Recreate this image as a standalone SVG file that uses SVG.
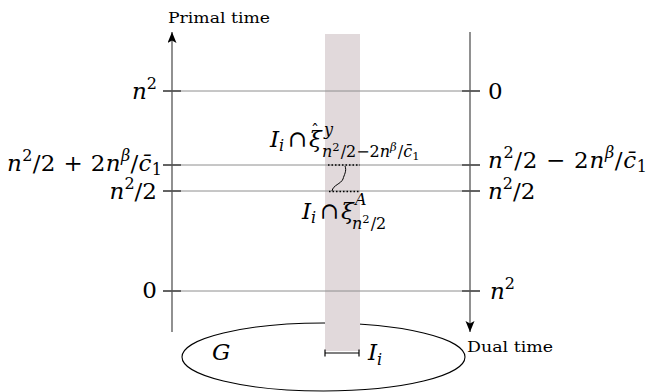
<svg xmlns="http://www.w3.org/2000/svg" width="649" height="392" viewBox="0 0 649 392">
<style>
  text { font-family: "DejaVu Serif", serif; fill: #000; }
  .m { font-size: 23px; }
  .i { font-style: italic; }
  .n { font-style: normal; }
  .s { font-size: 16px; }
  .ss { font-size: 11.5px; }
  .lbl { font-size: 15px; }
  .hl { stroke: #8e8e8e; stroke-width: 1; fill: none; }
  .tick { stroke: #222; stroke-width: 1.2; fill: none; }
  .axis { stroke: #555; stroke-width: 1.3; fill: none; }
  .dot { stroke: #000; stroke-width: 1.6; stroke-dasharray: 1.5 2; fill: none; }
</style>
<defs>
  <marker id="arr" markerUnits="userSpaceOnUse" markerWidth="12" markerHeight="10" refX="11" refY="4.5" orient="auto">
    <path d="M0,0 L11,4.5 L0,9 L2.5,4.5 Z" fill="#000"/>
  </marker>
</defs>

<g id="graph-G">
  <ellipse cx="323.5" cy="357" rx="141.5" ry="34" fill="none" stroke="#000" stroke-width="1.1"/>
  <text class="m i" x="212" y="360">G</text>
</g>

<g id="band">
  <rect x="325" y="34" width="35" height="317" fill="#e1d9db"/>
</g>

<g id="connectors">
  <line class="hl" x1="163" y1="91" x2="480" y2="91"/>
  <line class="hl" x1="163" y1="165" x2="480" y2="165"/>
  <line class="hl" x1="163" y1="191" x2="480" y2="191"/>
  <line class="hl" x1="163" y1="291" x2="480" y2="291"/>
  <line class="tick" x1="163" y1="91" x2="181" y2="91"/>
  <line class="tick" x1="163" y1="165" x2="181" y2="165"/>
  <line class="tick" x1="163" y1="191" x2="181" y2="191"/>
  <line class="tick" x1="163" y1="291" x2="181" y2="291"/>
  <line class="tick" x1="462" y1="91" x2="480" y2="91"/>
  <line class="tick" x1="462" y1="165" x2="480" y2="165"/>
  <line class="tick" x1="462" y1="191" x2="480" y2="191"/>
  <line class="tick" x1="462" y1="291" x2="480" y2="291"/>
  <line class="axis" x1="172" y1="332" x2="172" y2="32" marker-end="url(#arr)"/>
  <line class="axis" x1="470" y1="32" x2="470" y2="332" marker-end="url(#arr)"/>
  <line class="dot" x1="328" y1="165" x2="360" y2="165"/>
  <line class="dot" x1="329" y1="191.5" x2="360" y2="191.5"/>
  <path d="M345,166 C347,171 344,175 343,179 C341,184 333,185 332,191" fill="none" stroke="#000" stroke-width="1"/>
  <g id="interval">
    <line x1="325" y1="353" x2="359" y2="353" stroke="#000" stroke-width="1.2"/>
    <line x1="325" y1="349.5" x2="325" y2="356.5" stroke="#000" stroke-width="1.2"/>
    <line x1="359" y1="349.5" x2="359" y2="356.5" stroke="#000" stroke-width="1.2"/>
  </g>
</g>

<g id="axis-labels">
  <text class="lbl" x="168" y="23" textLength="102" lengthAdjust="spacingAndGlyphs">Primal time</text>
  <text class="lbl" x="467" y="352" textLength="86" lengthAdjust="spacingAndGlyphs">Dual time</text>
</g>

<g id="left-labels">
  <text class="m" x="157" y="99" text-anchor="end"><tspan class="i">n</tspan><tspan class="s" dy="-10">2</tspan></text>
  <text class="m" x="162" y="171" text-anchor="end" textLength="155" lengthAdjust="spacing"><tspan class="i">n</tspan><tspan class="s" dy="-10">2</tspan><tspan dy="10">/2 + 2</tspan><tspan class="i">n</tspan><tspan class="s i" dy="-10">β</tspan><tspan dy="10">/</tspan><tspan class="i">c̄</tspan><tspan class="s" dy="4">1</tspan></text>
  <text class="m" x="157" y="199" text-anchor="end"><tspan class="i">n</tspan><tspan class="s" dy="-10">2</tspan><tspan dy="10">/2</tspan></text>
  <text class="m" x="157" y="298" text-anchor="end">0</text>
</g>

<g id="right-labels">
  <text class="m" x="488" y="99">0</text>
  <text class="m" x="488" y="168" textLength="159" lengthAdjust="spacing"><tspan class="i">n</tspan><tspan class="s" dy="-10">2</tspan><tspan dy="10">/2 − 2</tspan><tspan class="i">n</tspan><tspan class="s i" dy="-10">β</tspan><tspan dy="10">/</tspan><tspan class="i">c̄</tspan><tspan class="s" dy="4">1</tspan></text>
  <text class="m" x="488" y="199"><tspan class="i">n</tspan><tspan class="s" dy="-10">2</tspan><tspan dy="10">/2</tspan></text>
  <text class="m" x="490" y="299"><tspan class="i">n</tspan><tspan class="s" dy="-10">2</tspan></text>
</g>

<g id="label-xi-hat">
  <text class="m"><tspan class="i" x="270" y="147">I</tspan><tspan class="i s" x="279" y="151">i</tspan><tspan x="288" y="147">∩</tspan><tspan class="i" x="309" y="147">ξ</tspan><tspan class="s n" x="311" y="136">ˆ</tspan><tspan class="i s" x="324" y="135">y</tspan><tspan class="s" x="322" y="157"><tspan class="i">n</tspan><tspan class="ss" dy="-6">2</tspan><tspan dy="6" dx="1">/2−2</tspan><tspan class="i">n</tspan><tspan class="ss i" dy="-6">β</tspan><tspan dy="6" dx="1">/</tspan><tspan class="i">c̄</tspan><tspan class="ss" dy="3">1</tspan></tspan></text>
</g>

<g id="label-xi-A">
  <text class="m"><tspan class="i" x="302" y="219">I</tspan><tspan class="i s" x="311" y="223">i</tspan><tspan x="320" y="219">∩</tspan><tspan class="i" x="341" y="219">ξ</tspan><tspan class="i s" x="355" y="205">A</tspan><tspan class="s" x="352" y="229"><tspan class="i">n</tspan><tspan class="ss" dy="-6">2</tspan><tspan dy="6" dx="1">/2</tspan></tspan></text>
</g>

<g id="label-Ii">
  <text class="m"><tspan class="i" x="368" y="360">I</tspan><tspan class="i s" x="377" y="365">i</tspan></text>
</g>
</svg>
